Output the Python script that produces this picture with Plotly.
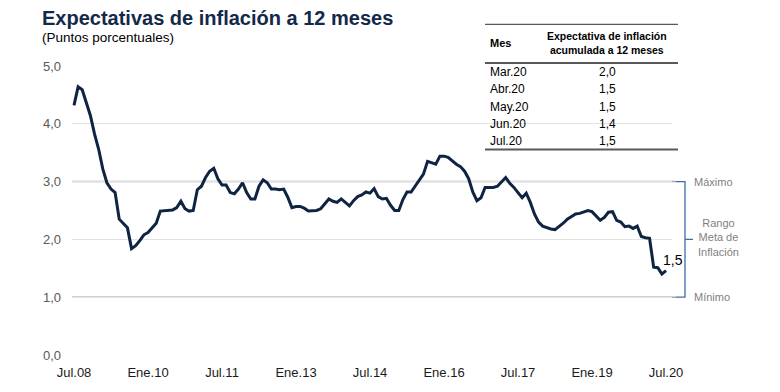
import plotly.graph_objects as go

# ---------------- DATA ----------------
months_idx = list(range(145))  # Jul.08 ... Jul.20 (monthly)
expectativa = [
    4.32, 4.64, 4.59, 4.38, 4.14, 3.82, 3.56, 3.22, 2.98, 2.87, 2.81, 2.35,
    2.27, 2.20, 1.84, 1.89, 1.98, 2.08, 2.12, 2.20, 2.28, 2.49, 2.50, 2.50,
    2.51, 2.55, 2.66, 2.53, 2.49, 2.50, 2.86, 2.92, 3.07, 3.18, 3.23, 3.05,
    2.94, 2.94, 2.81, 2.79, 2.87, 2.98, 2.81, 2.70, 2.70, 2.92, 3.03, 2.98,
    2.87, 2.87, 2.86, 2.87, 2.73, 2.55, 2.57, 2.57, 2.54, 2.49, 2.49, 2.50,
    2.53, 2.61, 2.70, 2.66, 2.64, 2.70, 2.64, 2.58, 2.67, 2.74, 2.77, 2.82,
    2.80, 2.88, 2.74, 2.70, 2.71, 2.59, 2.50, 2.50, 2.69, 2.82, 2.82, 2.92,
    3.03, 3.13, 3.35, 3.33, 3.30, 3.44, 3.44, 3.42, 3.36, 3.30, 3.26, 3.18,
    3.05, 2.82, 2.67, 2.72, 2.90, 2.90, 2.90, 2.92, 3.00, 3.07, 2.97, 2.90,
    2.81, 2.72, 2.80, 2.64, 2.44, 2.30, 2.23, 2.20, 2.18, 2.17, 2.22, 2.28,
    2.35, 2.40, 2.44, 2.45, 2.48, 2.50, 2.48, 2.41, 2.33, 2.38, 2.47, 2.48,
    2.33, 2.30, 2.22, 2.23, 2.19, 2.23, 2.05, 2.03, 2.02, 1.52, 1.51, 1.40,
    1.46,
]
tick_positions = [0, 18, 36, 54, 72, 90, 108, 126, 144]
tick_labels = ["Jul.08", "Ene.10", "Jul.11", "Ene.13", "Jul.14",
               "Ene.16", "Jul.17", "Ene.19", "Jul.20"]
y_ticks = [0, 1, 2, 3, 4, 5]

rango_min = 1.0
rango_max = 3.0
last_label = "1,5"

table_months = ["Mar.20", "Abr.20", "May.20", "Jun.20", "Jul.20"]
table_values = ["2,0", "1,5", "1,5", "1,4", "1,5"]
table_header_1 = "Mes"
table_header_2 = "Expectativa de inflación<br>acumulada a 12 meses"

title_text = "Expectativas de inflación a 12 meses"
subtitle_text = "(Puntos porcentuales)"

# ---------------- LAYOUT HELPERS ----------------
W, H = 780, 392
PL, PR = 72, 672      # plot area left/right (px)
PT, PB = 66, 357      # plot area top/bottom (px)


def px(x):
    return (x - PL) / (PR - PL)


def py(y):
    return (PB - y) / (PB - PT)


FONT = "Liberation Sans, Arial, sans-serif"
NAVY = "#0f2442"
BRACKET = "#3a6ea5"
GRAYTXT = "#7f7f7f"

fig = go.Figure()
fig.add_trace(go.Scatter(
    x=months_idx, y=expectativa, mode="lines",
    line=dict(color=NAVY, width=3), hoverinfo="skip", showlegend=False,
))

shapes = []
annotations = []

# Target range lines (darker gray)
for v in (rango_min, rango_max):
    shapes.append(dict(type="line", xref="paper", yref="y",
                       x0=0, x1=px(676), y0=v, y1=v,
                       line=dict(color="#a6a6a6", width=1.5), layer="below"))

# Bracket "}" on the right
bx = 685
y_top = PB - (rango_max / 5) * (PB - PT)
y_bot = PB - (rango_min / 5) * (PB - PT)
y_mid = (y_top + y_bot) / 2
bracket_path = (f"M {px(bx-9)},{py(y_top)} L {px(bx)},{py(y_top)} "
                f"L {px(bx)},{py(y_bot)} L {px(bx-9)},{py(y_bot)} "
                f"M {px(bx)},{py(y_mid)} L {px(bx+8)},{py(y_mid)}")
shapes.append(dict(type="path", xref="paper", yref="paper", path=bracket_path,
                   line=dict(color=BRACKET, width=1.3)))

annotations += [
    dict(x=px(692), y=py(y_top), xref="paper", yref="paper", text="Máximo",
         showarrow=False, xanchor="left", yanchor="middle",
         font=dict(family=FONT, size=11, color=GRAYTXT)),
    dict(x=px(692), y=py(y_bot), xref="paper", yref="paper", text="Mínimo",
         showarrow=False, xanchor="left", yanchor="middle",
         font=dict(family=FONT, size=11, color=GRAYTXT)),
    dict(x=px(718), y=py(y_mid - 2), xref="paper", yref="paper",
         text="Rango<br>Meta de<br>Inflación",
         showarrow=False, xanchor="center", yanchor="middle", align="center",
         font=dict(family=FONT, size=11, color=GRAYTXT)),
    dict(x=px(673), y=py(261), xref="paper", yref="paper", text=last_label,
         showarrow=False, xanchor="center", yanchor="middle",
         font=dict(family=FONT, size=14, color="#000000")),
]

# Title / subtitle
annotations += [
    dict(x=px(40), y=py(18), xref="paper", yref="paper",
         text=f"<b>{title_text}</b>",
         showarrow=False, xanchor="left", yanchor="middle",
         font=dict(family=FONT, size=20, color="#13294b")),
    dict(x=px(40), y=py(37), xref="paper", yref="paper", text=subtitle_text,
         showarrow=False, xanchor="left", yanchor="middle",
         font=dict(family=FONT, size=13.5, color="#000000")),
]

# Table
t_left, t_right = 485, 678
shapes.append(dict(type="line", xref="paper", yref="paper",
                   x0=px(t_left), x1=px(t_right), y0=py(24), y1=py(24),
                   line=dict(color="#595959", width=1.3)))
shapes.append(dict(type="line", xref="paper", yref="paper",
                   x0=px(t_left), x1=px(t_right), y0=py(63), y1=py(63),
                   line=dict(color="#595959", width=2)))
shapes.append(dict(type="line", xref="paper", yref="paper",
                   x0=px(t_left), x1=px(t_right), y0=py(150), y1=py(150),
                   line=dict(color="#595959", width=2)))
annotations.append(dict(x=px(488), y=py(43), xref="paper", yref="paper",
                        text=f"<b>{table_header_1}</b>", showarrow=False,
                        xanchor="left", yanchor="middle",
                        font=dict(family=FONT, size=11, color="#000000")))
annotations.append(dict(x=px(607), y=py(43), xref="paper", yref="paper",
                        text=f"<b>{table_header_2}</b>", showarrow=False,
                        xanchor="center", yanchor="middle", align="center",
                        font=dict(family=FONT, size=10.5, color="#000000")))
row_y = [72, 89.5, 107, 124.5, 142]
for m, v, ry in zip(table_months, table_values, row_y):
    annotations.append(dict(x=px(488), y=py(ry), xref="paper", yref="paper",
                            text=m, showarrow=False, xanchor="left",
                            yanchor="middle",
                            font=dict(family=FONT, size=12, color="#000000")))
    annotations.append(dict(x=px(607), y=py(ry), xref="paper", yref="paper",
                            text=v, showarrow=False, xanchor="center",
                            yanchor="middle",
                            font=dict(family=FONT, size=12, color="#000000")))

months_per_px = 144 / (666 - 74)
x0_range = 0 - (74 - PL) * months_per_px
x1_range = 144 + (PR - 666) * months_per_px

fig.update_layout(
    width=W, height=H,
    margin=dict(l=PL, r=W - PR, t=PT, b=H - PB),
    paper_bgcolor="white", plot_bgcolor="white",
    separators=",.",
    showlegend=False,
    shapes=shapes, annotations=annotations,
    xaxis=dict(range=[x0_range, x1_range], tickmode="array",
               tickvals=tick_positions, ticktext=tick_labels,
               showgrid=False, zeroline=False, showline=False, ticks="",
               ticklabelstandoff=8,
               tickfont=dict(family=FONT, size=13, color="#1a1a1a"),
               fixedrange=True),
    yaxis=dict(range=[0, 5], tickmode="array", tickvals=y_ticks,
               tickformat=".1f", showgrid=True, gridcolor="#e3e3e3",
               gridwidth=1.3, zeroline=False, showline=False, ticks="",
               ticklabelstandoff=10,
               tickfont=dict(family=FONT, size=13, color="#595959"),
               fixedrange=True),
)

fig.write_html("out.html", config={"displayModeBar": False},
               post_script="document.body.style.margin='0px';"
                           "document.body.style.overflow='hidden';")
